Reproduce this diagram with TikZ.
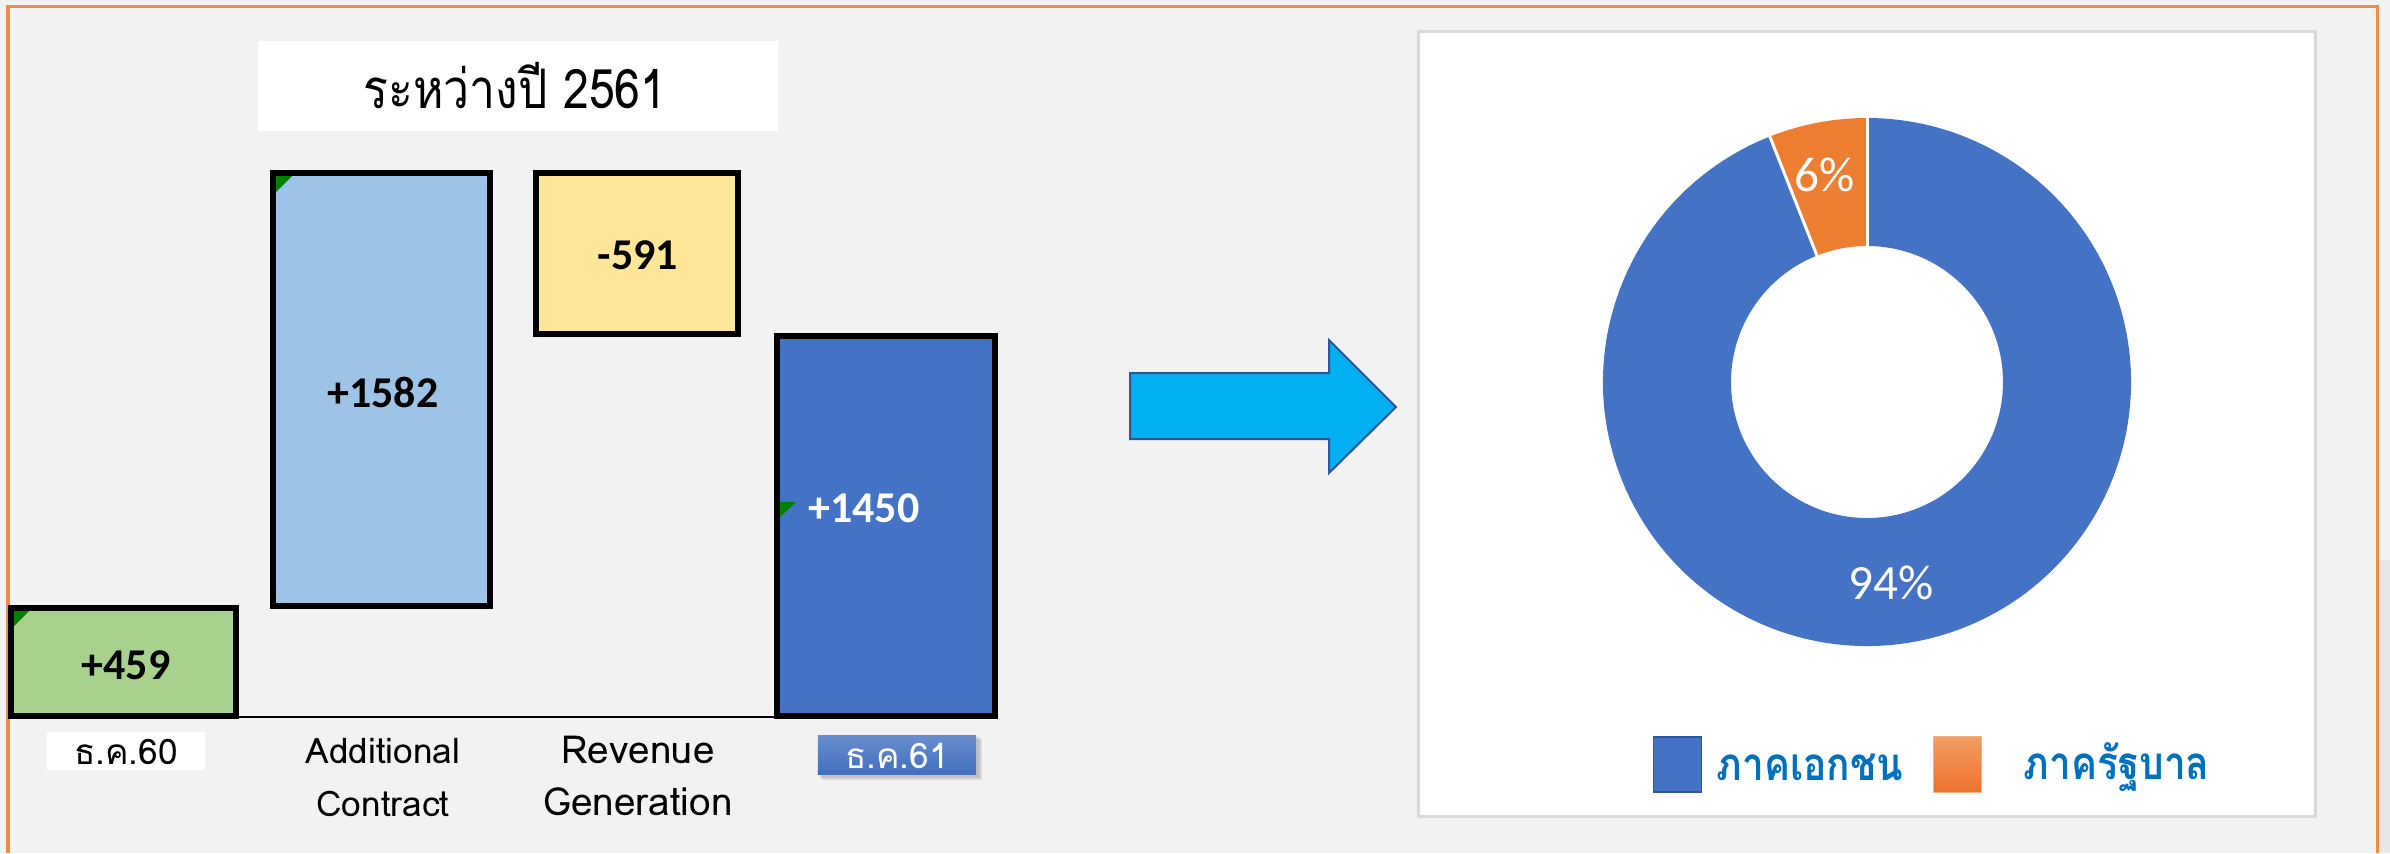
\documentclass[tikz,border=0pt]{standalone}
\usepackage{fontspec}
\usetikzlibrary{calc}
\setmainfont{Carlito}
\newfontfamily\thai[Script=Thai]{Loma}
\newfontfamily\thaiN[Script=Thai,FakeStretch=0.85]{Loma}
\definecolor{bg}{HTML}{F2F2F2}
\definecolor{ora}{HTML}{ED7D31}
\definecolor{oraline}{HTML}{F08A45}
\definecolor{grn}{HTML}{A9D18E}
\definecolor{lblue}{HTML}{9DC3E6}
\definecolor{yel}{HTML}{FFE699}
\definecolor{dblue}{HTML}{4472C4}
\definecolor{cyanA}{HTML}{00B0F0}
\definecolor{navy}{HTML}{2F5597}
\definecolor{legtxt}{HTML}{0070C0}
\definecolor{gridg}{HTML}{D9D9D9}
\definecolor{errg}{HTML}{008000}
\begin{document}
\begin{tikzpicture}[x=0.01cm,y=0.01cm,
  bar/.style={draw=black,line width=0.06cm,inner sep=0pt,rectangle},
  num/.style={font=\fontsize{12.5}{14}\bfseries\selectfont,text=black,inner sep=0pt},
  lab/.style={font=\thai\fontsize{10}{12}\selectfont,inner sep=0pt},
  pct/.style={font=\fontsize{14}{16}\selectfont,text=white,inner sep=0pt},
  legt/.style={font=\thaiN\bfseries\fontsize{13}{15}\selectfont,text=legtxt,inner sep=0pt,anchor=west},
  errtri/.style={fill=errg}]
\useasboundingbox (0,0) rectangle (2390,853);
\fill[bg] (0,0) rectangle (2390,853);
\fill[gray!18] (2379,0) rectangle (2390,293);
% frame
\coordinate (fTL) at (8,847);
\coordinate (fTR) at (2377,847);
\coordinate (fBL) at (8,0);
\coordinate (fBR) at (2377,0);
\draw[oraline,line width=0.03cm] (fBL) -- (fTL) -- (fTR) -- (fBR);
% title
\node[fill=white,minimum width=5.2cm,minimum height=0.9cm,inner sep=0pt] (titlebox) at (518,767) {};
\node[font=\thaiN\fontsize{15.5}{17}\selectfont,inner sep=0pt] (title) at (515,767) {ระหว่างปี 2561};
% bars
\node[bar,fill=grn,minimum width=2.25cm,minimum height=1.08cm] (b1) at (123.5,191) {};
\node[bar,fill=lblue,minimum width=2.17cm,minimum height=4.33cm] (b2) at (381.5,463.5) {};
\node[bar,fill=yel,minimum width=2.02cm,minimum height=1.61cm] (b3) at (637,599.5) {};
\node[bar,fill=dblue,minimum width=2.18cm,minimum height=3.80cm] (b4) at (886,327) {};
% error triangles
\fill[errtri] (14,242) -- (29,242) -- (14,227) -- cycle;
\fill[errtri] (276,677) -- (292,677) -- (276,661) -- cycle;
\fill[errtri] (780,351) -- (796,351) -- (780,336) -- cycle;
% axis
\coordinate (ax0) at (8,136);
\coordinate (ax1) at (776,136);
\draw[black,line width=0.025cm] (ax0) -- (ax1);
% numbers
\node[num] (n1) at (126,188) {+459};
\node[num] (n2) at (383,461) {+1582};
\node[num] (n3) at (638,598) {-591};
\node[num,text=white] (n4) at (864,345) {+1450};
% category labels
\node[fill=white,minimum width=1.58cm,minimum height=0.38cm,inner sep=0pt] (c1box) at (126,102) {};
\node[lab] (c1) at (126,101) {ธ.ค.60};
\node[lab] (c2a) at (383,102) {Additional};
\node[lab] (c2b) at (383,49) {Contract};
\node[lab,font=\thai\fontsize{11}{13}\selectfont] (c3a) at (638,103) {Revenue};
\node[lab,font=\thai\fontsize{11}{13}\selectfont] (c3b) at (638,51) {Generation};
\fill[black,opacity=0.10] (822,73) rectangle (982,114);
\fill[black,opacity=0.10] (820,75) rectangle (980,116);
\node[top color=dblue!80!white,bottom color=dblue!85!navy,minimum width=1.58cm,minimum height=0.39cm,inner sep=0pt] (c4box) at (897,98.5) {};
\node[lab,text=white] (c4) at (897,97) {ธ.ค.61};
% arrow
\draw[fill=cyanA,draw=navy,line width=0.02cm] (1130,414) -- (1329,414) -- (1329,380) -- (1396,446) -- (1329,513) -- (1329,480) -- (1130,480) -- cycle;
% chart box
\node[fill=white,draw=gridg,line width=0.03cm,minimum width=8.96cm,minimum height=7.84cm,inner sep=0pt] (chart) at (1867,429) {};
% donut
\coordinate (dc) at (1867,471);
\fill[dblue] ($(dc)+(111.6:264)$) arc[start angle=111.6,end angle=450,radius=264] -- ($(dc)+(90:136)$) arc[start angle=450,end angle=111.6,radius=136] -- cycle;
\fill[ora] ($(dc)+(90:264)$) arc[start angle=90,end angle=111.6,radius=264] -- ($(dc)+(111.6:136)$) arc[start angle=111.6,end angle=90,radius=136] -- cycle;
\draw[white,line width=0.03cm] ($(dc)+(90:134)$) -- ($(dc)+(90:266)$);
\draw[white,line width=0.03cm] ($(dc)+(111.6:134)$) -- ($(dc)+(111.6:266)$);
\node[pct] (p6) at (1825,678) {6\%};
\node[pct] (p94) at (1891,270) {94\%};
% legend
\node[fill=dblue,draw=navy,line width=0.015cm,minimum width=0.48cm,minimum height=0.55cm,inner sep=0pt] (lg1) at (1677.5,88.5) {};
\node[legt] (lt1) at (1716,86) {ภาคเอกชน};
\node[top color=ora!75!white,bottom color=ora!90!red,draw=ora!60!white,line width=0.01cm,minimum width=0.48cm,minimum height=0.55cm,inner sep=0pt] (lg2) at (1957,88.5) {};
\node[legt] (lt2) at (2023,86) {ภาครัฐบาล};
\end{tikzpicture}
\end{document}
